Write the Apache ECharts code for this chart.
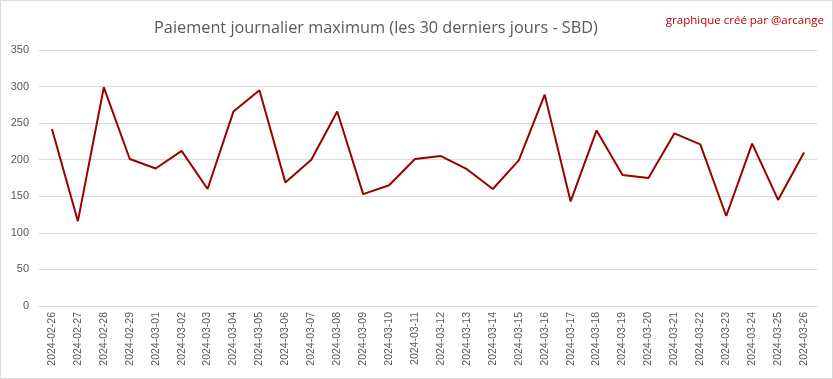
<!DOCTYPE html>
<html>
<head>
<meta charset="utf-8">
<script src="https://cdn.jsdelivr.net/npm/echarts@6/dist/echarts.min.js"></script>
<style>
html,body{margin:0;padding:0;background:#fff;}
#c{width:833px;height:379px;box-sizing:border-box;border:1px solid #d9d9d9;}
</style>
</head>
<body>
<div id="c"></div>
<script>
const categories = ['2024-02-26','2024-02-27','2024-02-28','2024-02-29','2024-03-01','2024-03-02','2024-03-03','2024-03-04','2024-03-05','2024-03-06','2024-03-07','2024-03-08','2024-03-09','2024-03-10','2024-03-11','2024-03-12','2024-03-13','2024-03-14','2024-03-15','2024-03-16','2024-03-17','2024-03-18','2024-03-19','2024-03-20','2024-03-21','2024-03-22','2024-03-23','2024-03-24','2024-03-25','2024-03-26'];
const maxPayout = [242,116,299,201,188,212,160,266,295,169,200,266,153,165,201,205,187,160,199,289,143,240,179,175,236,221,123,222,145,210];
const titleText = 'Paiement journalier maximum (les 30 derniers jours - SBD)';
const creditText = 'graphique créé par @arcange';

const chart = echarts.init(document.getElementById('c'), null, {renderer:'canvas'});
chart.setOption({
  animation:false,
  title:[
    {text:titleText, left:370, textAlign:'center', top:14,
     textStyle:{fontFamily:'Open Sans', fontSize:16.3, fontWeight:'normal', color:'#595959'}},
    {text:creditText, right:3, top:9,
     textStyle:{fontFamily:'Open Sans', fontSize:11.5, fontWeight:'normal', color:'#c00000'}}
  ],
  grid:{left:38, right:15, top:49, bottom:72, containLabel:false},
  xAxis:{
    type:'category', data:categories, boundaryGap:true,
    axisLine:{show:true, lineStyle:{color:'#d9d9d9', width:1}},
    axisTick:{show:false},
    axisLabel:{rotate:90, interval:0, color:'#595959', fontFamily:'Liberation Sans', fontSize:10.5, margin:6}
  },
  yAxis:{
    type:'value', min:0, max:350, interval:50,
    axisLine:{show:false}, axisTick:{show:false},
    splitLine:{lineStyle:{color:'#d9d9d9', width:1}},
    axisLabel:{color:'#595959', fontFamily:'Liberation Sans', fontSize:11, margin:10}
  },
  series:[{
    type:'line', data:maxPayout, symbol:'none',
    lineStyle:{color:'#990000', width:2},
    itemStyle:{color:'#990000'}
  }]
});
</script>
</body>
</html>
